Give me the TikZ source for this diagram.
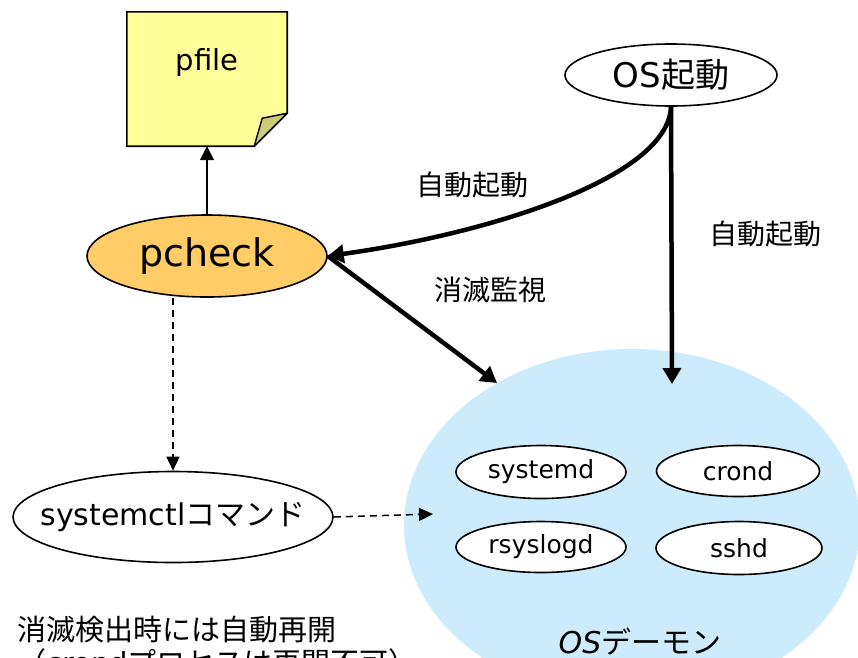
\documentclass[tikz,border=0pt]{standalone}
\usepackage{fontspec}
\setmainfont{DejaVu Sans}
\newfontfamily\jp{Noto Sans CJK JP}
\usetikzlibrary{arrows.meta,shapes.geometric}
\definecolor{notefill}{RGB}{255,255,153}
\definecolor{notefold}{RGB}{204,204,119}
\definecolor{pcheckfill}{RGB}{255,204,102}
\definecolor{daemonfill}{RGB}{204,235,253}
\tikzset{
  x=1pt, y=-1pt,
  ell/.style={ellipse, draw=black, line width=1.6pt, inner sep=0pt, fill=white},
  txt/.style={inner sep=0pt},
  thickarrow/.style={line width=4.5pt, -{Triangle[length=16pt,width=18pt]}},
  thinarrow/.style={line width=1.5pt, -{Triangle[length=14pt,width=14pt]}},
  dasharrow/.style={line width=1.5pt, dash pattern=on 7pt off 5pt, -{Triangle[length=14pt,width=13pt]}},
}
\newcommand{\zb}[1]{\makebox[0pt]{#1}}
\begin{document}
\begin{tikzpicture}
\useasboundingbox (0,0) rectangle (858,657);
% OS daemon region
\node[ellipse, fill=daemonfill, inner sep=0pt, minimum width=456pt, minimum height=352pt] (daemon) at (632,525) {};
% pfile note
\node[inner sep=0pt, minimum width=160pt, minimum height=134pt] (pfile) at (207,79) {};
\draw[line width=1.6pt, fill=notefill, line join=miter] (pfile.north west) -- (pfile.north east) -- ([yshift=33pt]pfile.south east) -- ([xshift=-33pt]pfile.south east) -- (pfile.south west) -- cycle;
\draw[line width=1.4pt, fill=notefold, line join=round] ([yshift=33pt]pfile.south east) -- ([xshift=-25pt,yshift=28pt]pfile.south east) -- ([xshift=-33pt]pfile.south east) -- cycle;
\node[txt] (pfiletxt) at (207,62) {\fontsize{29}{32}\selectfont pfile};
% pcheck
\node[ell, fill=pcheckfill, minimum width=240pt, minimum height=82pt] (pcheck) at (207,256) {\zb{\fontsize{38}{42}\selectfont pcheck}};
% OS boot
\node[ell, minimum width=212pt, minimum height=62pt] (osboot) at (671,75) {\zb{\fontsize{34}{38}\selectfont OS{\jp 起動}}};
% systemctl
\node[ell, minimum width=320pt, minimum height=91pt] (sctl) at (173,517) {\zb{\fontsize{30}{34}\selectfont systemctl{\jp コマンド}}};
% daemons
\node[ell, minimum width=170pt, minimum height=53pt] (systemd) at (541,472) {\zb{\fontsize{25}{28}\selectfont systemd}};
\node[ell, minimum width=163pt, minimum height=51pt] (crond) at (738,471) {\zb{\fontsize{25}{28}\selectfont crond}};
\node[ell, minimum width=170pt, minimum height=51pt] (rsyslogd) at (541,547) {\zb{\fontsize{25}{28}\selectfont rsyslogd}};
\node[ell, minimum width=166pt, minimum height=53pt] (sshd) at (739,548) {\zb{\fontsize{25}{28}\selectfont sshd}};
\node[txt, anchor=base] (daemonlbl) at (640,653) {\fontsize{30}{34}\selectfont \textit{OS}{\jp デーモン}};
% labels
\node[txt] (lbl1) at (472,185) {\fontsize{28}{32}\selectfont\jp 自動起動};
\node[txt] (lbl2) at (765,234) {\fontsize{28}{32}\selectfont\jp 自動起動};
\node[txt] (lbl3) at (490,290) {\fontsize{28}{32}\selectfont\jp 消滅監視};
\node[txt, anchor=base west] (note1) at (17,640) {\fontsize{29}{33}\selectfont\jp 消滅検出時には自動再開};
\node[txt, anchor=base west] (note2) at (17,673) {\fontsize{29}{33}\selectfont{\jp （}crond{\jp プロセスは再開不可）}};
% coordinates
\coordinate (vtip) at (672,384);
\coordinate (dtip) at (497,383);
\coordinate (htip) at (433,514);
% connectors
\draw[thinarrow] (pcheck.north) -- (pfile.south);
\draw[thickarrow] (osboot.south) .. controls (668,180) and (480,235) .. (pcheck.east);
\draw[thickarrow] (osboot.south) -- (vtip);
\draw[thickarrow] (pcheck.east) -- (dtip);
\draw[dasharrow] (pcheck.south -| sctl.north) -- (sctl.north);
\draw[dasharrow] (sctl.east) -- (htip);
\end{tikzpicture}
\end{document}
